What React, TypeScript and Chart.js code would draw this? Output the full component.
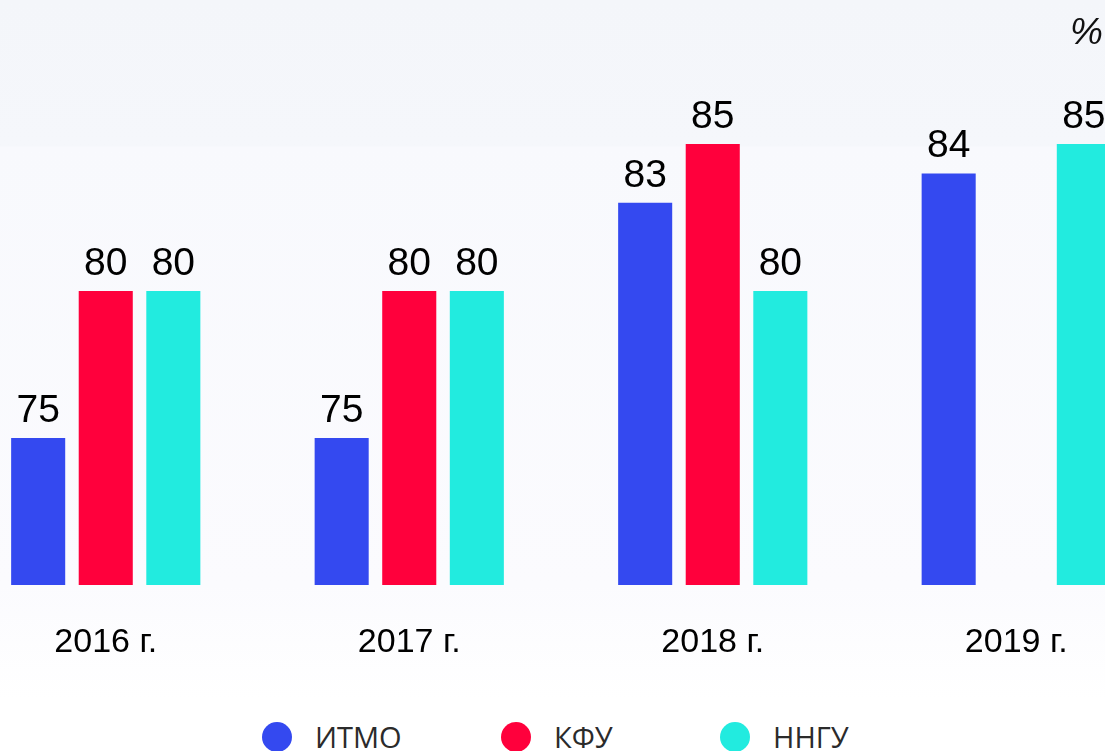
import React, { useEffect, useRef } from "react";
import { Chart, registerables } from "chart.js";

Chart.register(...registerables);

const categories = ["2016 г.", "2017 г.", "2018 г.", "2019 г."];
const seriesNames = ["ИТМО", "КФУ", "ННГУ"];
const itmoValues = [75, 75, 83, 84];
const kfuValues = [80, 80, 85, null];
const nnguValues = [80, 80, 80, 85];
const seriesColors = ["#3449f0", "#ff003c", "#22ebdf"];
const yMin = 70;
const yMax = 85;
const unitLabel = "%";

const valueLabels = {
  id: "valueLabels",
  afterDatasetsDraw(chart: any) {
    const ctx = chart.ctx;
    ctx.save();
    ctx.font = '39px "Liberation Sans", Arial, sans-serif';
    ctx.fillStyle = "#000";
    ctx.textAlign = "center";
    ctx.textBaseline = "alphabetic";
    chart.data.datasets.forEach((ds: any, di: number) => {
      const meta = chart.getDatasetMeta(di);
      meta.data.forEach((el: any, i: number) => {
        const v = ds.data[i];
        if (v === null || v === undefined) return;
        ctx.fillText(String(v), el.x, el.y - 16);
      });
    });
    ctx.restore();
  },
};

export default function App() {
  const ref = useRef<HTMLCanvasElement>(null);

  useEffect(() => {
    if (!ref.current) return;
    const chart = new Chart(ref.current, {
      type: "bar",
      data: {
        labels: categories,
        datasets: [
          { label: seriesNames[0], data: itmoValues, backgroundColor: seriesColors[0] },
          { label: seriesNames[1], data: kfuValues as any, backgroundColor: seriesColors[1] },
          { label: seriesNames[2], data: nnguValues, backgroundColor: seriesColors[2] },
        ],
      },
      options: {
        animation: false,
        responsive: false,
        maintainAspectRatio: false,
        devicePixelRatio: 1,
        datasets: { bar: { barPercentage: 0.8, categoryPercentage: 0.668 } } as any,
        layout: { padding: { top: 144, left: 0, right: 0, bottom: 0 } },
        plugins: { legend: { display: false }, tooltip: { enabled: false } },
        scales: {
          x: {
            grid: { display: false, drawTicks: false },
            border: { display: false },
            ticks: {
              color: "#000",
              font: { family: '"Liberation Sans", Arial, sans-serif', size: 34 },
              padding: 37,
              maxRotation: 0,
              autoSkip: false,
            },
            afterFit: (scale: any) => {
              scale.height = 115;
            },
          },
          y: { display: false, min: yMin, max: yMax },
        },
      },
      plugins: [valueLabels],
    });
    return () => chart.destroy();
  }, []);

  const legendItems = [
    { name: seriesNames[0], color: seriesColors[0], x: 262 },
    { name: seriesNames[1], color: seriesColors[1], x: 501 },
    { name: seriesNames[2], color: seriesColors[2], x: 720 },
  ];

  return (
    <div
      style={{
        position: "fixed",
        left: 0,
        top: 0,
        width: 1105,
        height: 751,
        overflow: "hidden",
        background:
          "linear-gradient(to bottom, #f4f6fa 0px, #f5f7fb 146px, #f8f9fd 147px, #fbfbfe 585px, #ffffff 700px, #ffffff 751px)",
      }}
    >
      <canvas
        ref={ref}
        width={1214}
        height={700}
        style={{ position: "absolute", left: -46, top: 0, width: 1214, height: 700 }}
      />
      <div
        style={{
          position: "absolute",
          right: 2,
          top: 12,
          font: 'italic 37px "Liberation Sans", Arial, sans-serif',
          color: "#111",
          lineHeight: "40px",
        }}
      >
        {unitLabel}
      </div>
      {legendItems.map((it) => (
        <div
          key={it.name}
          style={{
            position: "absolute",
            left: it.x,
            top: 722,
            height: 30,
            display: "flex",
            alignItems: "center",
          }}
        >
          <div
            style={{ width: 30, height: 30, borderRadius: "50%", background: it.color }}
          />
          <span
            style={{
              marginLeft: 23,
              font: '29px "Open Sans", sans-serif',
              color: "#2b2b2b",
              lineHeight: "30px",
              whiteSpace: "nowrap",
            }}
          >
            {it.name}
          </span>
        </div>
      ))}
    </div>
  );
}
